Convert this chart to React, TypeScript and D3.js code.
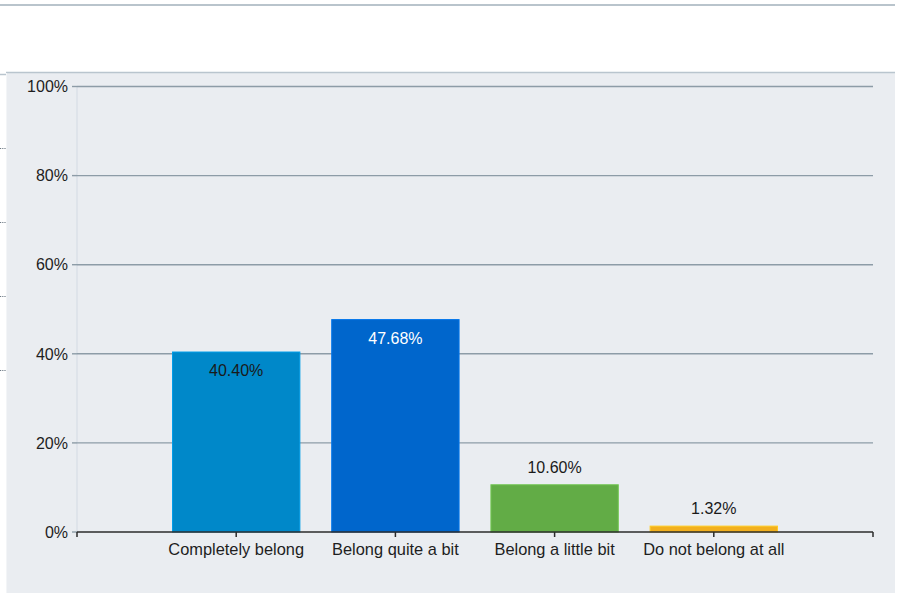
import React from "react";
import * as d3 from "d3";

const categories = ["Completely belong", "Belong quite a bit", "Belong a little bit", "Do not belong at all"];
const values = [40.4, 47.68, 10.6, 1.32];
const valueLabels = ["40.40%", "47.68%", "10.60%", "1.32%"];
const barColors = ["#0088c9", "#0066cc", "#62ac46", "#f2b01e"];
const insideLabelColors = ["#1a1a1a", "#ffffff", "#1a1a1a", "#1a1a1a"];
const yTicks = [0, 20, 40, 60, 80, 100];
const yTickLabels = ["0%", "20%", "40%", "60%", "80%", "100%"];
const sideMarks = [148.5, 222.5, 296.5, 370.5];

const W = 902;
const H = 597;
const FONT = "'Liberation Sans', Arial, sans-serif";

export default function App() {
  const x = d3.scaleLinear().domain([0, categories.length + 1]).range([77, 873]);
  const y = d3.scaleLinear().domain([0, 100]).range([532, 86.5]);
  const step = x(1) - x(0);
  const barW = step * 0.8;
  const xTickIdx = d3.range(0, categories.length + 2);

  return (
    <svg
      width={W}
      height={H}
      style={{ position: "absolute", left: 0, top: 0, display: "block" }}
      fontFamily={FONT}
    >
      <rect x={0} y={0} width={W} height={H} fill="#ffffff" />
      {/* top page rule */}
      <line x1={0} x2={895} y1={5} y2={5} stroke="#b9c4cc" strokeWidth={2} />
      {/* panel */}
      <rect x={6} y={72} width={889} height={521} fill="#eaedf1" />
      <line x1={6} x2={895} y1={72.5} y2={72.5} stroke="#b9c5ce" strokeWidth={1.5} />
      <line x1={0} x2={6} y1={74.5} y2={74.5} stroke="#b9c5ce" strokeWidth={1.5} />
      <line x1={6.5} x2={6.5} y1={73} y2={593} stroke="#f3f5f7" strokeWidth={1} />
      {sideMarks.map((yy, i) => (
        <line key={i} x1={0} x2={6} y1={yy} y2={yy} stroke="#6f7b86" strokeWidth={1.2} strokeDasharray="1.2,1" />
      ))}

      {/* left axis light line */}
      <line x1={77} x2={77} y1={y(100)} y2={y(0)} stroke="#d3dae3" strokeWidth={1} />

      {/* gridlines and y ticks */}
      {yTicks.map((t, i) => (
        <g key={t}>
          {t > 0 && (
            <line x1={77} x2={873} y1={y(t)} y2={y(t)} stroke="#8d9ca7" strokeWidth={1.4} />
          )}
          <line x1={72} x2={77} y1={y(t)} y2={y(t)} stroke="#8d9ca7" strokeWidth={1.4} />
          <text
            x={68}
            y={y(t)}
            dy="0.36em"
            textAnchor="end"
            fontSize={16}
            fill="#1e1e1e"
          >
            {yTickLabels[i]}
          </text>
        </g>
      ))}

      {/* bars */}
      {categories.map((c, i) => {
        const cx = x(i + 1);
        const top = y(values[i]);
        const h = y(0) - top;
        const inside = h > 80;
        return (
          <g key={c}>
            <rect
              x={cx - barW / 2}
              y={top}
              width={barW}
              height={h}
              fill={barColors[i]}
              stroke={d3.color(barColors[i])!.brighter(0.4).toString()}
              strokeWidth={1}
            />
            <text
              x={cx}
              y={inside ? top + 24 : top - 12}
              textAnchor="middle"
              fontSize={16}
              fill={inside ? insideLabelColors[i] : "#1a1a1a"}
            >
              {valueLabels[i]}
            </text>
          </g>
        );
      })}

      {/* x axis */}
      <line x1={77} x2={873} y1={y(0)} y2={y(0)} stroke="#2b2b2b" strokeWidth={1.5} />
      {xTickIdx.map((k) => (
        <line key={k} x1={x(k)} x2={x(k)} y1={y(0)} y2={y(0) + 5} stroke="#2b2b2b" strokeWidth={1.5} />
      ))}
      {categories.map((c, i) => (
        <text key={c} x={x(i + 1)} y={555} textAnchor="middle" fontSize={16.4} fill="#1e1e1e">
          {c}
        </text>
      ))}
    </svg>
  );
}
